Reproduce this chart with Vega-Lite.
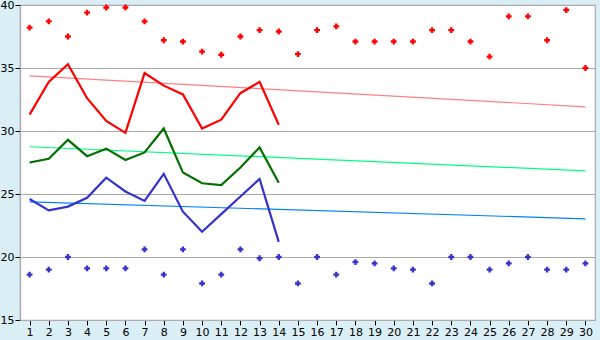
{
  "$schema": "https://vega.github.io/schema/vega-lite/v6.json",
  "width": 575,
  "height": 315,
  "autosize": "none",
  "padding": {"left": 20, "top": 5, "right": 5, "bottom": 20},
  "background": "#d9eef5",
  "view": {"fill": "white", "stroke": "#aaaaaa", "strokeWidth": 1.2},
  "config": {
    "axis": {
      "labelFont": "DejaVu Sans",
      "labelFontSize": 11,
      "labelColor": "#000000",
      "tickColor": "#000000",
      "tickSize": 5,
      "labelPadding": 1,
      "domainColor": "#aaaaaa",
      "domainWidth": 1.2,
      "title": null
    }
  },
  "resolve": {"scale": {"color": "independent"}},
  "datasets": {
    "trend": [
      {"s": "r", "x": 1, "y": 34.38},
      {"s": "r", "x": 30, "y": 31.92},
      {"s": "g", "x": 1, "y": 28.75},
      {"s": "g", "x": 30, "y": 26.84},
      {"s": "b", "x": 1, "y": 24.38},
      {"s": "b", "x": 30, "y": 23.03}
    ],
    "lines": [
      {"s": "r", "x": 1, "y": 31.3}, {"s": "r", "x": 2, "y": 33.9}, {"s": "r", "x": 3, "y": 35.3},
      {"s": "r", "x": 4, "y": 32.6}, {"s": "r", "x": 5, "y": 30.8}, {"s": "r", "x": 6, "y": 29.85},
      {"s": "r", "x": 7, "y": 34.6}, {"s": "r", "x": 8, "y": 33.6}, {"s": "r", "x": 9, "y": 32.9},
      {"s": "r", "x": 10, "y": 30.2}, {"s": "r", "x": 11, "y": 30.9}, {"s": "r", "x": 12, "y": 33.0},
      {"s": "r", "x": 13, "y": 33.9}, {"s": "r", "x": 14, "y": 30.5},
      {"s": "g", "x": 1, "y": 27.5}, {"s": "g", "x": 2, "y": 27.8}, {"s": "g", "x": 3, "y": 29.3},
      {"s": "g", "x": 4, "y": 28.0}, {"s": "g", "x": 5, "y": 28.6}, {"s": "g", "x": 6, "y": 27.7},
      {"s": "g", "x": 7, "y": 28.3}, {"s": "g", "x": 8, "y": 30.2}, {"s": "g", "x": 9, "y": 26.7},
      {"s": "g", "x": 10, "y": 25.85}, {"s": "g", "x": 11, "y": 25.7}, {"s": "g", "x": 12, "y": 27.1},
      {"s": "g", "x": 13, "y": 28.7}, {"s": "g", "x": 14, "y": 25.9},
      {"s": "b", "x": 1, "y": 24.6}, {"s": "b", "x": 2, "y": 23.7}, {"s": "b", "x": 3, "y": 24.0},
      {"s": "b", "x": 4, "y": 24.7}, {"s": "b", "x": 5, "y": 26.3}, {"s": "b", "x": 6, "y": 25.2},
      {"s": "b", "x": 7, "y": 24.45}, {"s": "b", "x": 8, "y": 26.6}, {"s": "b", "x": 9, "y": 23.6},
      {"s": "b", "x": 10, "y": 22.0}, {"s": "b", "x": 11, "y": 23.4}, {"s": "b", "x": 12, "y": 24.8},
      {"s": "b", "x": 13, "y": 26.2}, {"s": "b", "x": 14, "y": 21.2}
    ],
    "points": [
      {"s": "r", "x": 1, "y": 38.2}, {"s": "r", "x": 2, "y": 38.7}, {"s": "r", "x": 3, "y": 37.5},
      {"s": "r", "x": 4, "y": 39.4}, {"s": "r", "x": 5, "y": 39.8}, {"s": "r", "x": 6, "y": 39.8},
      {"s": "r", "x": 7, "y": 38.7}, {"s": "r", "x": 8, "y": 37.2}, {"s": "r", "x": 9, "y": 37.1},
      {"s": "r", "x": 10, "y": 36.3}, {"s": "r", "x": 11, "y": 36.05}, {"s": "r", "x": 12, "y": 37.5},
      {"s": "r", "x": 13, "y": 38.0}, {"s": "r", "x": 14, "y": 37.9}, {"s": "r", "x": 15, "y": 36.1},
      {"s": "r", "x": 16, "y": 38.0}, {"s": "r", "x": 17, "y": 38.3}, {"s": "r", "x": 18, "y": 37.1},
      {"s": "r", "x": 19, "y": 37.1}, {"s": "r", "x": 20, "y": 37.1}, {"s": "r", "x": 21, "y": 37.1},
      {"s": "r", "x": 22, "y": 38.0}, {"s": "r", "x": 23, "y": 38.0}, {"s": "r", "x": 24, "y": 37.1},
      {"s": "r", "x": 25, "y": 35.9}, {"s": "r", "x": 26, "y": 39.1}, {"s": "r", "x": 27, "y": 39.1},
      {"s": "r", "x": 28, "y": 37.2}, {"s": "r", "x": 29, "y": 39.6}, {"s": "r", "x": 30, "y": 35.0},
      {"s": "b", "x": 1, "y": 18.6}, {"s": "b", "x": 2, "y": 19.0}, {"s": "b", "x": 3, "y": 20.0},
      {"s": "b", "x": 4, "y": 19.1}, {"s": "b", "x": 5, "y": 19.1}, {"s": "b", "x": 6, "y": 19.1},
      {"s": "b", "x": 7, "y": 20.6}, {"s": "b", "x": 8, "y": 18.6}, {"s": "b", "x": 9, "y": 20.6},
      {"s": "b", "x": 10, "y": 17.9}, {"s": "b", "x": 11, "y": 18.6}, {"s": "b", "x": 12, "y": 20.6},
      {"s": "b", "x": 13, "y": 19.9}, {"s": "b", "x": 14, "y": 20.0}, {"s": "b", "x": 15, "y": 17.9},
      {"s": "b", "x": 16, "y": 20.0}, {"s": "b", "x": 17, "y": 18.6}, {"s": "b", "x": 18, "y": 19.6},
      {"s": "b", "x": 19, "y": 19.5}, {"s": "b", "x": 20, "y": 19.1}, {"s": "b", "x": 21, "y": 19.0},
      {"s": "b", "x": 22, "y": 17.9}, {"s": "b", "x": 23, "y": 20.0}, {"s": "b", "x": 24, "y": 20.0},
      {"s": "b", "x": 25, "y": 19.0}, {"s": "b", "x": 26, "y": 19.5}, {"s": "b", "x": 27, "y": 20.0},
      {"s": "b", "x": 28, "y": 19.0}, {"s": "b", "x": 29, "y": 19.0}, {"s": "b", "x": 30, "y": 19.5}
    ]
  },
  "encoding": {
    "x": {
      "field": "x", "type": "quantitative",
      "scale": {"domain": [0.5, 30.5], "nice": false, "zero": false},
      "axis": {"values": [1,2,3,4,5,6,7,8,9,10,11,12,13,14,15,16,17,18,19,20,21,22,23,24,25,26,27,28,29,30], "grid": false, "format": "d", "labelFlush": false}
    },
    "y": {
      "field": "y", "type": "quantitative",
      "scale": {"domain": [15, 40], "nice": false, "zero": false},
      "axis": {"values": [15, 20, 25, 30, 35, 40], "grid": true, "gridColor": "#aaaaaa", "gridWidth": 1.2, "labelFlush": false}
    }
  },
  "layer": [
    {
      "data": {"name": "trend"},
      "mark": {"type": "line", "strokeWidth": 1.2},
      "encoding": {
        "color": {"field": "s", "type": "nominal", "legend": null,
          "scale": {"domain": ["r", "g", "b"], "range": ["#ff8080", "#00ff80", "#0080ff"]}}
      }
    },
    {
      "data": {"name": "lines"},
      "mark": {"type": "line", "strokeWidth": 2.2},
      "encoding": {
        "color": {"field": "s", "type": "nominal", "legend": null,
          "scale": {"domain": ["r", "g", "b"], "range": ["#ff0000", "#007000", "#3333cc"]}}
      }
    },
    {
      "data": {"name": "points"},
      "mark": {"type": "point", "shape": "cross", "filled": true, "size": 34, "opacity": 1},
      "encoding": {
        "fill": {"field": "s", "type": "nominal", "legend": null,
          "scale": {"domain": ["r", "b"], "range": ["#ff0000", "#3333cc"]}}
      }
    }
  ]
}
